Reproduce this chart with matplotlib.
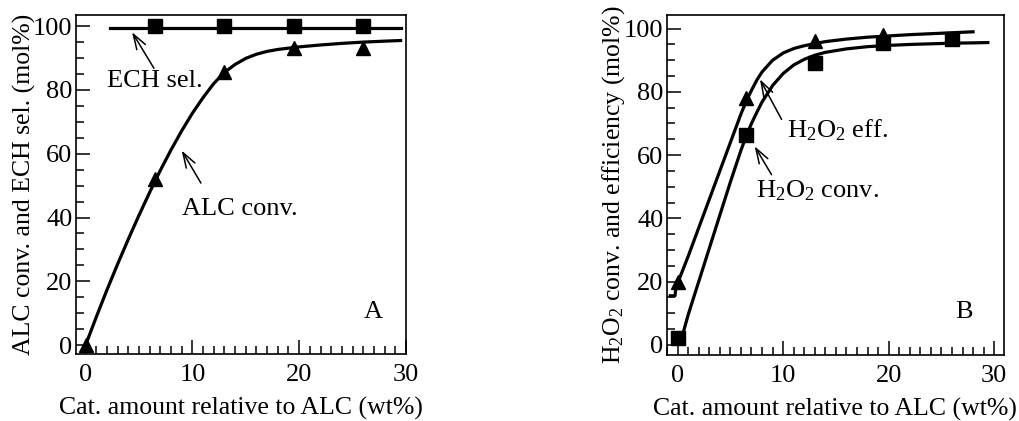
import matplotlib
matplotlib.use("Agg")
import matplotlib.pyplot as plt
from matplotlib.ticker import MultipleLocator

plt.rcParams['font.family'] = ['Liberation Serif', 'DejaVu Serif']
plt.rcParams['mathtext.fontset'] = 'custom'
plt.rcParams['mathtext.rm'] = 'Liberation Serif'
plt.rcParams['mathtext.it'] = 'Liberation Serif:italic'
FS = 19      # tick labels and annotations
LFS = 18.5   # axis labels

# --- panel A data ---
cat = [0, 6.5, 13, 19.5, 26]
alc_conv = [0, 52, 85.5, 93, 93]
ech_x = [6.5, 13, 19.5, 26]
ech_sel = [100, 100, 100, 100]
# fitted curves
alc_fit_x = [0, 1, 2, 3, 4, 5, 6, 7, 8, 9, 10, 11, 12, 13, 14, 15, 16, 17, 18,
             20, 22, 24, 26, 28, 29.5]
alc_fit_y = [0, 8.8, 17.3, 25.4, 33.2, 40.7, 47.9, 54.8, 61.2, 67.2, 72.7, 77.6,
             82, 85.5, 88, 89.9, 91.2, 92.1, 92.7, 93.5, 94.1, 94.6, 95, 95.3, 95.5]
ech_fit_x = [2.3, 29.5]
ech_fit_y = [99.3, 99.3]

# --- panel B data ---
eff_x = [0, 6.5, 13, 19.5]
h2o2_eff = [20, 78, 96, 98]
conv_x = [0, 6.5, 13, 19.5, 26]
h2o2_conv = [2, 66.5, 89.2, 95.4, 96.7]
eff_fit_x = [-0.7, -0.25, -0.2, 0, 1, 2, 3, 4, 5, 6, 6.5, 7, 7.5, 8, 9, 10, 11,
             12, 14, 16, 18, 20, 22, 24, 26, 28]
eff_fit_y = [15.5, 15.5, 17, 19.5, 28, 37, 46, 55, 64, 73, 77, 80.5, 83.7, 86.3,
             90, 92.3, 93.7, 94.6, 95.9, 96.7, 97.3, 97.7, 98.1, 98.4, 98.7, 99]
conv_fit_x = [0.3, 0.5, 1, 2, 3, 4, 5, 6, 6.5, 7, 7.5, 8, 9, 10, 11, 12, 13, 14,
              16, 18, 20, 22, 24, 26, 28, 29.4]
conv_fit_y = [1.5, 3.5, 9.5, 20, 30.5, 41, 51.5, 61.5, 66, 70, 73.5, 76.8, 82,
              85.8, 88.5, 90.3, 91.6, 92.5, 93.6, 94.3, 94.7, 95, 95.2, 95.4,
              95.5, 95.6]

fig = plt.figure(figsize=(10.2, 4.21), dpi=100)
axA = fig.add_axes([0.0745, 0.159, 0.3235, 0.805])
axB = fig.add_axes([0.654, 0.157, 0.330, 0.808])


def style(ax):
    ax.xaxis.set_major_locator(MultipleLocator(10))
    ax.xaxis.set_minor_locator(MultipleLocator(1))
    ax.yaxis.set_major_locator(MultipleLocator(20))
    ax.yaxis.set_minor_locator(MultipleLocator(5))
    ax.tick_params(which='major', direction='in', length=10, width=1.1,
                   labelsize=FS)
    ax.tick_params(axis='x', which='major', pad=7)
    ax.tick_params(axis='y', which='major', pad=2.5)
    ax.tick_params(which='minor', direction='in', length=5.5, width=1.1)
    for s in ax.spines.values():
        s.set_linewidth(1.2)
    ax.set_xlabel('Cat. amount relative to ALC (wt%)', fontsize=LFS, labelpad=8)


arr = dict(arrowstyle='->,head_length=0.9,head_width=0.3', mutation_scale=12,
           lw=1.1, color='black', shrinkA=0, shrinkB=0)

# panel A
axA.plot(alc_fit_x, alc_fit_y, color='black', lw=2.3)
axA.plot(ech_fit_x, ech_fit_y, color='black', lw=2.3)
axA.plot(cat, alc_conv, '^', color='black', ms=10, ls='none')
axA.plot(ech_x, ech_sel, 's', color='black', ms=10, ls='none')
axA.set_xlim(-0.9, 30.0)
axA.set_ylim(-2.82, 103.45)
style(axA)
axA.set_ylabel('ALC conv. and ECH sel. (mol%)', fontsize=LFS, labelpad=-2)
axA.annotate('', xy=(4.35, 98.1), xytext=(6.4, 86.8), arrowprops=arr)
axA.text(2.0, 82.8, 'ECH sel.', fontsize=FS, va='center', ha='left')
axA.annotate('', xy=(9.0, 61), xytext=(10.8, 50.8), arrowprops=arr)
axA.text(9.0, 42.6, 'ALC conv.', fontsize=FS, va='center', ha='left')
axA.text(26.9, 10.3, 'A', fontsize=FS, va='center', ha='center')

# panel B
axB.plot(eff_fit_x, eff_fit_y, color='black', lw=2.3)
axB.plot(conv_fit_x, conv_fit_y, color='black', lw=2.3)
axB.plot(eff_x, h2o2_eff, '^', color='black', ms=10, ls='none')
axB.plot(conv_x, h2o2_conv, 's', color='black', ms=10, ls='none')
axB.set_xlim(-1.0, 30.9)
axB.set_ylim(-3.2, 104.4)
style(axB)
axB.set_ylabel('H$_2$O$_2$ conv. and efficiency (mol%)', fontsize=LFS, labelpad=-2)
axB.annotate('', xy=(7.8, 84), xytext=(9.85, 71.3), arrowprops=arr)
axB.text(10.4, 67.8, 'H$_2$O$_2$ eff.', fontsize=FS, va='center', ha='left')
axB.annotate('', xy=(7.3, 62.8), xytext=(8.9, 53.8), arrowprops=arr)
axB.text(7.4, 48.8, 'H$_2$O$_2$ conv.', fontsize=FS, va='center', ha='left')
axB.text(27.1, 10.5, 'B', fontsize=FS, va='center', ha='center')

fig.savefig('out.png', dpi=100)
